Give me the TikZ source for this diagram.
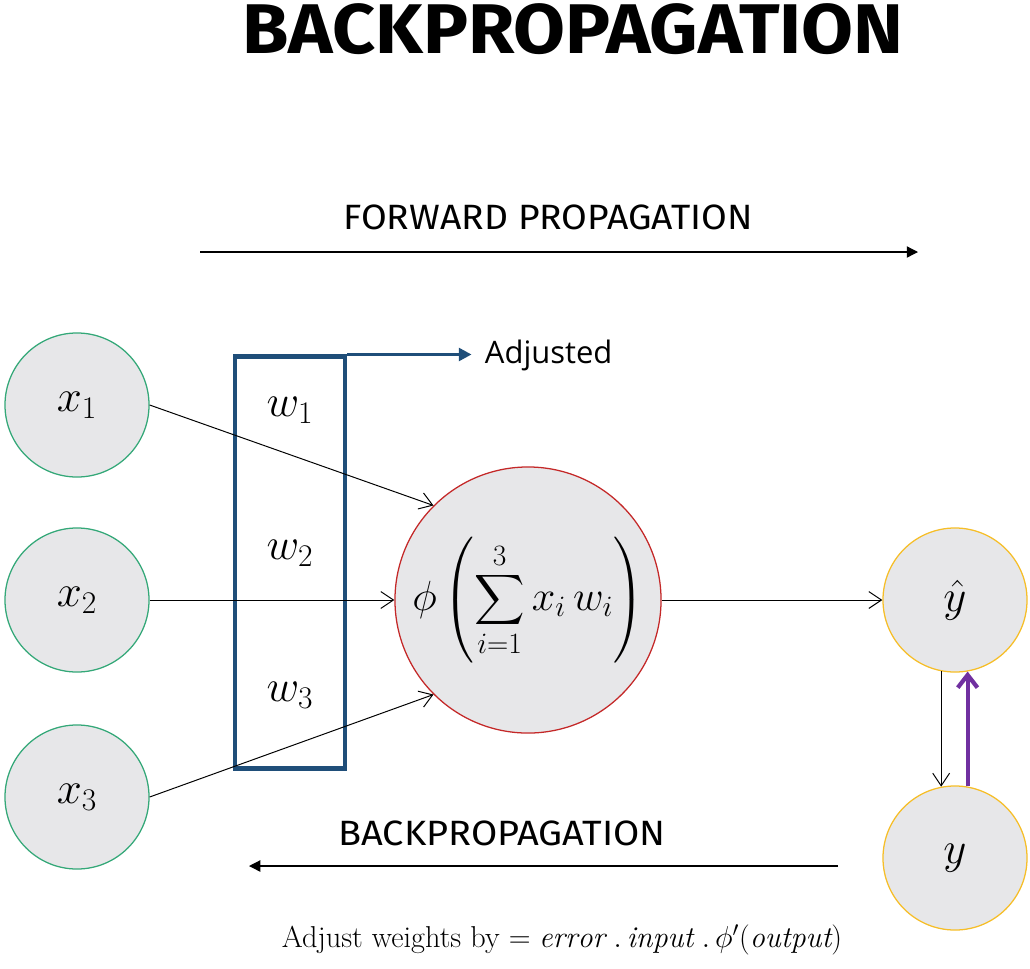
\RequirePackage{fix-cm}
\documentclass[tikz,border=0pt]{standalone}
\usepackage{exscale}
\usepackage{fontspec}
\setmainfont{Latin Modern Roman}
\newfontfamily\dinfont{Fira Sans}
\newfontfamily\dinbold{Fira Sans}[UprightFont=* Bold]
\newfontfamily\segfont{Open Sans}
\usetikzlibrary{positioning,arrows.meta,calc}

\definecolor{ingreen}{RGB}{52,168,120}
\definecolor{sumred}{RGB}{196,40,40}
\definecolor{outgold}{RGB}{246,190,40}
\definecolor{boxblue}{RGB}{31,78,121}
\definecolor{errpurple}{RGB}{112,48,160}
\definecolor{nodegray}{RGB}{231,231,233}

\begin{document}
\begin{tikzpicture}[x=0.025cm,y=-0.025cm,
  neuron/.style={circle,fill=nodegray,draw,line width=0.9pt,minimum size=3.6cm,inner sep=0pt,
    font=\fontsize{32}{38}\selectfont},
  link/.style={-{Straight Barb[length=9pt,width=12pt]},line width=0.7pt},
  bigtip/.style={-{Triangle[length=8pt,width=8pt]},line width=0.9pt}]
  \useasboundingbox (0,0) rectangle (1030,968);
  \node[font=\dinbold\fontsize{50}{56}\selectfont,xscale=1.07] (title) at (573,29) {BACKPROPAGATION};
  % forward direction
  \node[font=\dinfont\fontsize{25}{30}\selectfont,xscale=1.06] (fwd) at (548,217) {FORWARD PROPAGATION};
  \coordinate (fwdA) at (200,252); \coordinate (fwdB) at (918,252);
  \draw[bigtip] (fwdA) -- (fwdB);
  % inputs
  \node[neuron,draw=ingreen] (x1) at (77,405) {$x_1$};
  \node[neuron,draw=ingreen] (x2) at (77,600) {$x_2$};
  \node[neuron,draw=ingreen] (x3) at (77,797) {$x_3$};
  \node[neuron,draw=sumred,minimum size=6.65cm,font=\fontsize{30}{36}\selectfont] (phi) at (528,600)
    {$\displaystyle \phi\left(\sum_{i=1}^{3} x_i\, w_i\right)$};
  \node[neuron,draw=outgold] (yhat) at (955,600) {$\hat{y}$};
  \node[neuron,draw=outgold] (y) at (955,858) {$y$};
  % weights
  \node[draw=boxblue,line width=3.5pt,minimum width=2.75cm,minimum height=10.275cm] (wbox) at (290,562.5) {};
  \node[font=\fontsize{32}{38}\selectfont] (w1) at (290,410) {$w_1$};
  \node[font=\fontsize{32}{38}\selectfont] (w2) at (290,553) {$w_2$};
  \node[font=\fontsize{32}{38}\selectfont] (w3) at (290,695) {$w_3$};
  \node[font=\segfont\fontsize{22}{26}\selectfont,anchor=west] (adj) at (480,355) {Adjusted};
  \draw[boxblue,-{Triangle[length=9pt,width=9pt]},line width=2.2pt,shorten >=6pt]
    (wbox.north east) -- (wbox.north east -| adj.west);
  % connections
  \draw[link] (x1.east) -- (phi.135);
  \draw[link] (x2.east) -- (phi.west);
  \draw[link] (x3.east) -- (phi.225);
  \draw[link] (phi.east) -- (yhat.west);
  \draw[link] (yhat.259) -- (y.101);
  \draw[errpurple,-{Straight Barb[length=9pt,width=14pt]},line width=3pt] (y.80) -- (yhat.280);
  % backward direction
  \node[font=\dinfont\fontsize{25}{30}\selectfont,xscale=1.08] (back) at (502,833) {BACKPROPAGATION};
  \coordinate (backA) at (838,866); \coordinate (backB) at (249,866);
  \draw[bigtip] (backA) -- (backB);
  \node[font=\fontsize{21.5}{26}\selectfont] (rule) at (562,940)
    {Adjust weights by $= \mathit{error}\;.\,\mathit{input}\;.\,\phi'(\mathit{output})$};
\end{tikzpicture}
\end{document}
